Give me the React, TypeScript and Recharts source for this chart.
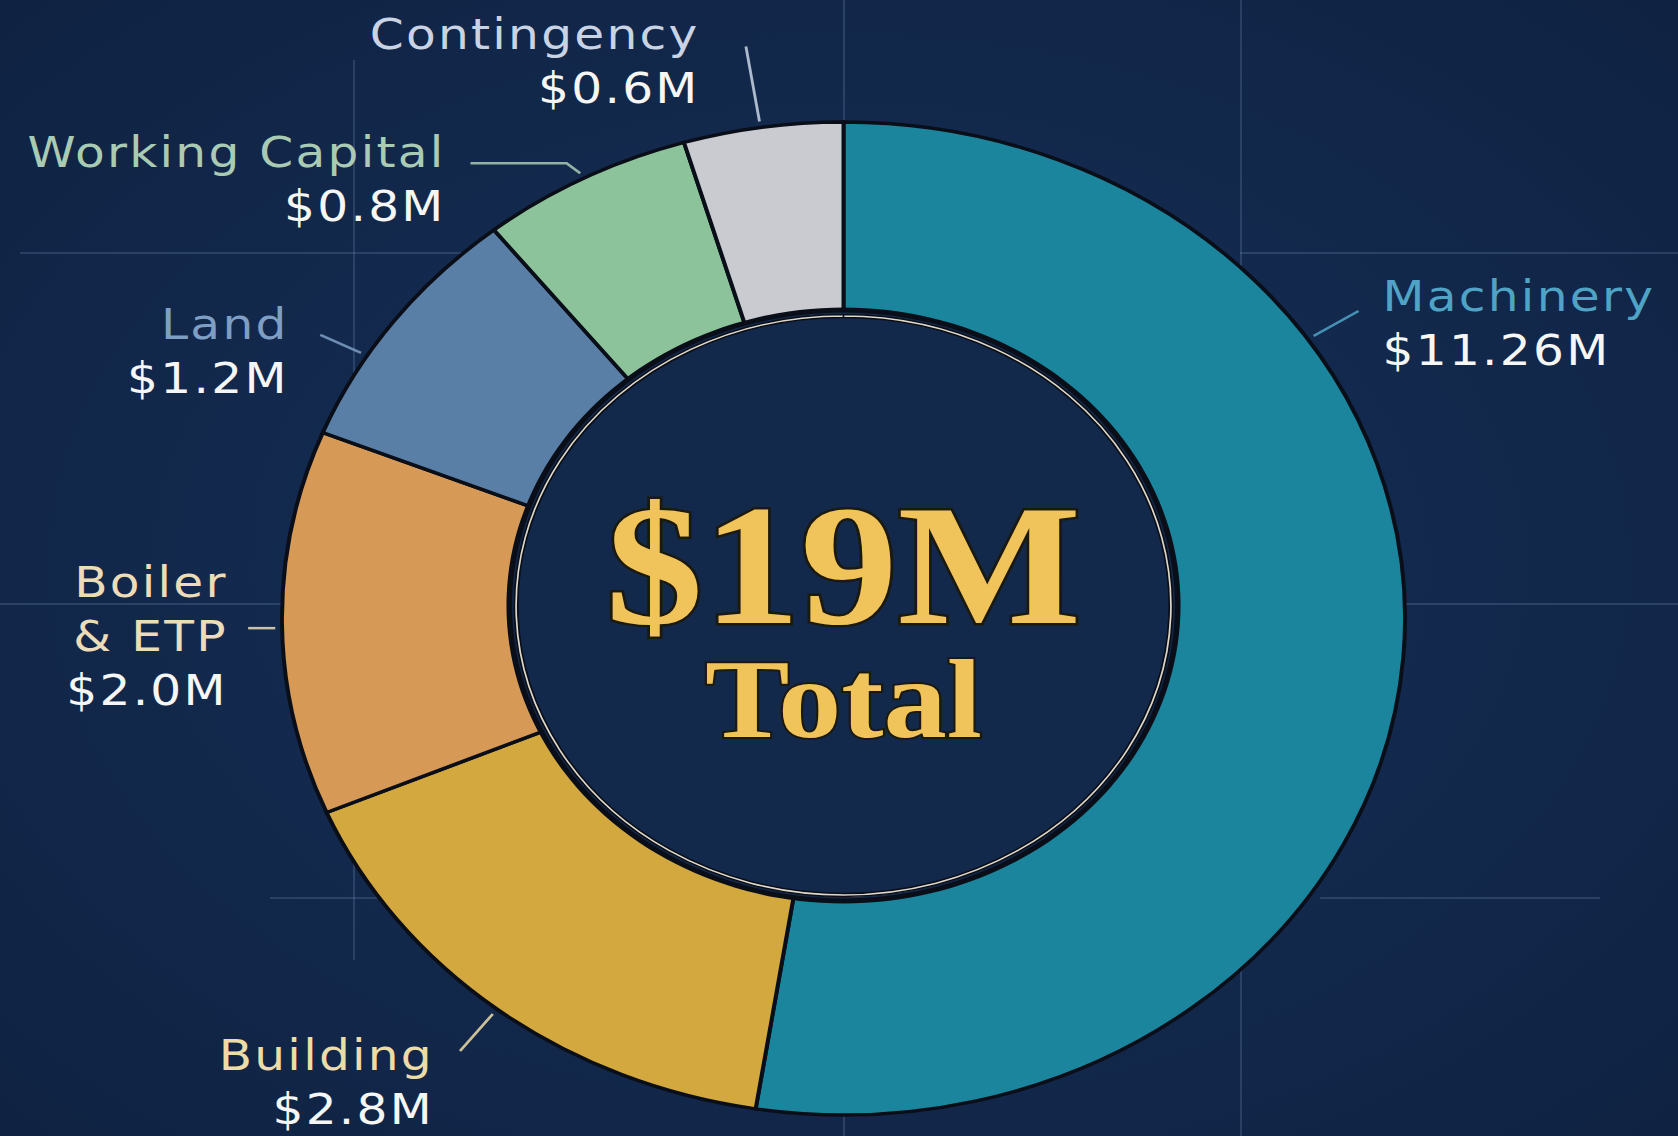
import { PieChart, Pie, Cell } from 'recharts';

// categories in clockwise order from 12 o'clock
const categories = ['Machinery', 'Building', 'Boiler & ETP', 'Land', 'Working Capital', 'Contingency'];
// amounts printed on the labels ($M)
const amounts = [11.26, 2.8, 2.0, 1.2, 0.8, 0.6];
// ring share of each slice as drawn in the picture (degrees of arc)
const arcShare = [189, 58, 45, 29.5, 22, 16.5];
const totalLabel = '$19M';
const totalCaption = 'Total';

const sliceColors = ['#1a859c', '#d3a83f', '#d69a56', '#5a7fa6', '#8cc39b', '#c9cbd0'];
const nameColors = ['#4fa3c5', '#ecdca6', '#ecdcb8', '#7e9ec4', '#a9cbb4', '#c9d3e4'];

const data = categories.map((name, i) => ({ name, amount: amounts[i], share: arcShare[i] }));

// the reference is stretched sideways, so draw round and stretch the whole thing
const SX = 1.131;
const W = 1678;
const H = 1136;
const CW = W / SX;
const CX = 745.8;
const CY = 618.5;
const R_OUT = 496.5;
const HOLE_R = 296;
const HOLE_DY = -13;
const BG = '#13294c';
const EDGE = '#0a0e18';

// where each leader meets the ring (deg) and offsets from there
const labelLayout = [
  { angle: 34.2, lead: [[39.8, -25]], text: [61, -25], anchor: 'start' },
  { angle: 231.9, lead: [[-29, 37]], text: [-52, 56], anchor: 'end' },
  { angle: 181.1, lead: [[-24, 0]], text: [-42, -31], anchor: 'end' },
  { angle: 148.1, lead: [[-36, -18]], text: [-64, -14], anchor: 'end' },
  { angle: 117.6, lead: [[-12, -10], [-97, -10]], text: [-119, -6], anchor: 'end' },
  { angle: 98.5, lead: [[-12, -75]], text: [-53, -73], anchor: 'end' },
];

const fmt = (v: number) => `$${v.toFixed(v >= 10 ? 2 : 1)}M`;

function renderLabel(props: any) {
  const { cx, cy, outerRadius, index } = props;
  const lay = labelLayout[index];
  const r = outerRadius + 6;
  const a = (lay.angle * Math.PI) / 180;
  const tx = cx + r * Math.cos(a);
  const ty = cy - r * Math.sin(a);
  const pts = [[tx, ty], ...lay.lead.map(([dx, dy]) => [tx + dx, ty + dy])]
    .map((p) => p.join(','))
    .join(' ');
  const lines = categories[index].split(/ (?=&)/);
  const x = tx + lay.text[0];
  const y0 = ty + lay.text[1];
  const lh = 54;
  return (
    <g key={`lbl-${index}`}>
      <polyline points={pts} fill="none" stroke={nameColors[index]} strokeWidth={2.5} opacity={0.85} />
      <text
        x={x}
        y={y0}
        textAnchor={lay.anchor}
        fontFamily="'DejaVu Sans', sans-serif"
        fontSize={43}
        letterSpacing={2}
      >
        {lines.map((ln, k) => (
          <tspan key={k} x={x} y={y0 + k * lh} fill={nameColors[index]}>
            {ln}
          </tspan>
        ))}
        <tspan x={x} y={y0 + lines.length * lh} fill="#f6f6f4">
          {fmt(amounts[index])}
        </tspan>
      </text>
    </g>
  );
}

function renderCenter(props: any) {
  const { cx, cy } = props;
  return (
    <g key="center">
      <text
        x={cx}
        y={cy + 17.5}
        textAnchor="middle"
        fontFamily="'Liberation Serif', serif"
        fontWeight="bold"
        fontSize={172}
        fill="#f0c45a"
        stroke="#1b1a10"
        strokeWidth={5}
        paintOrder="stroke"
      >
        {totalLabel}
      </text>
      <text
        x={cx}
        y={cy + 131.5}
        textAnchor="middle"
        fontFamily="'Liberation Serif', serif"
        fontWeight="bold"
        fontSize={112}
        fill="#f0c45a"
        stroke="#1b1a10"
        strokeWidth={4}
        paintOrder="stroke"
      >
        {totalCaption}
      </text>
    </g>
  );
}

const gridLine = 'rgba(130,160,200,0.22)';
const vLines = [
  { x: 353, y1: 60, y2: 960 },
  { x: 843, y1: 0, y2: 1136 },
  { x: 1240, y1: 0, y2: 1136 },
];
const hLines = [
  { y: 252, x1: 20, x2: 470 },
  { y: 252, x1: 1240, x2: 1678 },
  { y: 603, x1: 0, x2: 1678 },
  { y: 897, x1: 270, x2: 400 },
  { y: 897, x1: 1320, x2: 1600 },
];

export default function App() {
  return (
    <div
      style={{
        position: 'absolute',
        left: 0,
        top: 0,
        width: W,
        height: H,
        overflow: 'hidden',
        background: 'radial-gradient(ellipse at 50% 50%, #15305a 0%, #12284b 60%, #0f2242 100%)',
      }}
    >
      {vLines.map((l, i) => (
        <div
          key={`v${i}`}
          style={{ position: 'absolute', left: l.x, top: l.y1, width: 1.5, height: l.y2 - l.y1, background: gridLine }}
        />
      ))}
      {hLines.map((l, i) => (
        <div
          key={`h${i}`}
          style={{ position: 'absolute', left: l.x1, top: l.y, width: l.x2 - l.x1, height: 1.5, background: gridLine }}
        />
      ))}
      <div
        style={{
          position: 'absolute',
          left: 0,
          top: 0,
          width: CW,
          height: H,
          transform: `scaleX(${SX})`,
          transformOrigin: '0 0',
        }}
      >
        <PieChart width={CW} height={H} margin={{ top: 0, right: 0, bottom: 0, left: 0 }}>
          <Pie
            data={data}
            dataKey="share"
            nameKey="name"
            cx={CX}
            cy={CY}
            innerRadius={260}
            outerRadius={R_OUT}
            startAngle={90}
            endAngle={-270}
            stroke={EDGE}
            strokeWidth={3.5}
            label={renderLabel}
            labelLine={false}
            isAnimationActive={false}
          >
            {data.map((d, i) => (
              <Cell key={d.name} fill={sliceColors[i]} />
            ))}
          </Pie>
          {/* hole sits a little above the ring centre in the reference */}
          <Pie
            data={[{ name: 'hole', v: 1 }]}
            dataKey="v"
            cx={CX}
            cy={CY + HOLE_DY}
            innerRadius={0}
            outerRadius={HOLE_R}
            startAngle={90}
            endAngle={-270}
            fill={BG}
            stroke="none"
            isAnimationActive={false}
          />
          <Pie
            data={[{ name: 'edge', v: 1 }]}
            dataKey="v"
            cx={CX}
            cy={CY + HOLE_DY}
            innerRadius={HOLE_R - 3}
            outerRadius={HOLE_R + 2}
            startAngle={90}
            endAngle={-270}
            fill={EDGE}
            stroke="none"
            isAnimationActive={false}
          />
          <Pie
            data={[{ name: 'rim', v: 1 }]}
            dataKey="v"
            cx={CX}
            cy={CY + HOLE_DY}
            innerRadius={HOLE_R - 8}
            outerRadius={HOLE_R - 5}
            startAngle={90}
            endAngle={-270}
            fill="#ddd8c8"
            stroke={EDGE}
            strokeWidth={1.5}
            label={renderCenter}
            labelLine={false}
            isAnimationActive={false}
          />
        </PieChart>
      </div>
    </div>
  );
}
